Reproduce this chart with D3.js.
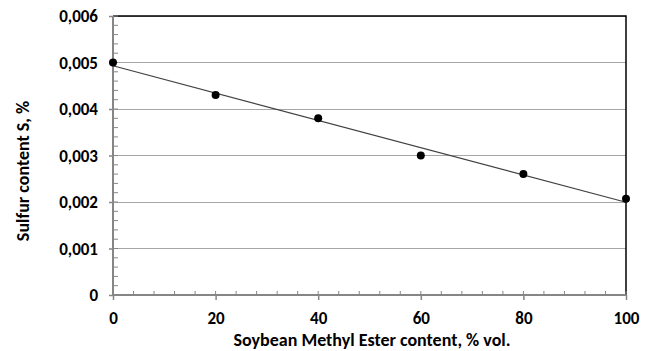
<!DOCTYPE html>
<html><head><meta charset="utf-8">
<script src="https://cdn.jsdelivr.net/npm/d3@7"></script>
<style>
html,body{margin:0;padding:0;background:#fff;}
text{font-family:Calibri,Carlito,Lato,"Open Sans",sans-serif;font-weight:bold;fill:#000;}
</style></head>
<body><svg id="c" width="654" height="351"></svg>
<script>
const xValues = [0, 20, 40, 60, 80, 100];
const sulfur = [0.0050, 0.0043, 0.0038, 0.0030, 0.0026, 0.00207];
const xTicks = [0, 20, 40, 60, 80, 100];
const yTicks = [0, 0.001, 0.002, 0.003, 0.004, 0.005, 0.006];
const yTickLabels = ["0", "0,001", "0,002", "0,003", "0,004", "0,005", "0,006"];
const xTitle = "Soybean Methyl Ester content, % vol.";
const yTitle = "Sulfur content S, %";

const svg = d3.select("#c");
const L = 113, R = 626, T = 16, B = 295;
const FS = "17px", TFS = "18px";
const x = d3.scaleLinear().domain([0, 100]).range([L, R]);
const y = d3.scaleLinear().domain([0, 0.006]).range([B, T]);

// gridlines
svg.append("g").selectAll("line").data(yTicks.slice(1)).join("line")
  .attr("x1", L).attr("x2", R).attr("y1", d => y(d)).attr("y2", d => y(d))
  .attr("stroke", "#a6a6a6").attr("stroke-width", 1).attr("shape-rendering", "crispEdges");

// top & right border
svg.append("path").attr("d", `M${L},${T}H${R}V${B}`).attr("fill", "none")
  .attr("stroke", "#000").attr("stroke-width", 1.5);

// minor ticks
const yMinor = d3.range(0, 31).map(i => i * 0.0002);
svg.append("g").selectAll("line").data(yMinor).join("line")
  .attr("x1", L).attr("x2", L + 5).attr("y1", d => y(d)).attr("y2", d => y(d))
  .attr("stroke", "#868686").attr("stroke-width", 1);
const xMinor = d3.range(0, 26).map(i => i * 4);
svg.append("g").selectAll("line").data(xMinor).join("line")
  .attr("x1", d => x(d)).attr("x2", d => x(d)).attr("y1", B).attr("y2", B - 4)
  .attr("stroke", "#868686").attr("stroke-width", 1);

// axes with major ticks outside
const yAxis = d3.axisLeft(y).tickValues(yTicks).tickSize(4).tickPadding(11)
  .tickFormat((d, i) => yTickLabels[i]);
const gy = svg.append("g").attr("transform", `translate(${L},0)`).call(yAxis);
const xAxis = d3.axisBottom(x).tickValues(xTicks).tickSize(5).tickPadding(12);
const gx = svg.append("g").attr("transform", `translate(0,${B})`).call(xAxis);
[gy, gx].forEach(g => {
  g.attr("font-size", null).attr("font-family", null);
  g.select(".domain").attr("stroke", "#868686").attr("stroke-width", 2);
  g.selectAll(".tick line").attr("stroke", "#868686").attr("stroke-width", 1.5);
  g.selectAll("text").style("font-size", FS).attr("fill", "#000");
});
gy.select(".domain").attr("d", `M0,${B + 1}V${T}`);
gx.select(".domain").attr("d", `M${L - 1},0H${R}`);
gy.selectAll("text").attr("dy", "0.35em");
gx.selectAll("text").attr("dy", "0.71em");

// trend line (least squares from data)
const mx = d3.mean(xValues), my = d3.mean(sulfur);
const slope = d3.sum(xValues.map((v, i) => (v - mx) * (sulfur[i] - my))) / d3.sum(xValues.map(v => (v - mx) ** 2));
const icpt = my - slope * mx;
svg.append("line").attr("x1", x(0)).attr("y1", y(icpt)).attr("x2", x(100)).attr("y2", y(icpt + slope * 100))
  .attr("stroke", "#404040").attr("stroke-width", 1.2);

// points
svg.append("g").selectAll("circle").data(xValues).join("circle")
  .attr("cx", d => x(d)).attr("cy", (d, i) => y(sulfur[i])).attr("r", 4).attr("fill", "#000");

// titles
svg.append("text").attr("x", 372).attr("y", 346).attr("text-anchor", "middle")
  .style("font-size", TFS).text(xTitle);
svg.append("text").attr("transform", "translate(29,171) rotate(-90)").attr("text-anchor", "middle")
  .style("font-size", TFS).text(yTitle);
</script></body></html>
